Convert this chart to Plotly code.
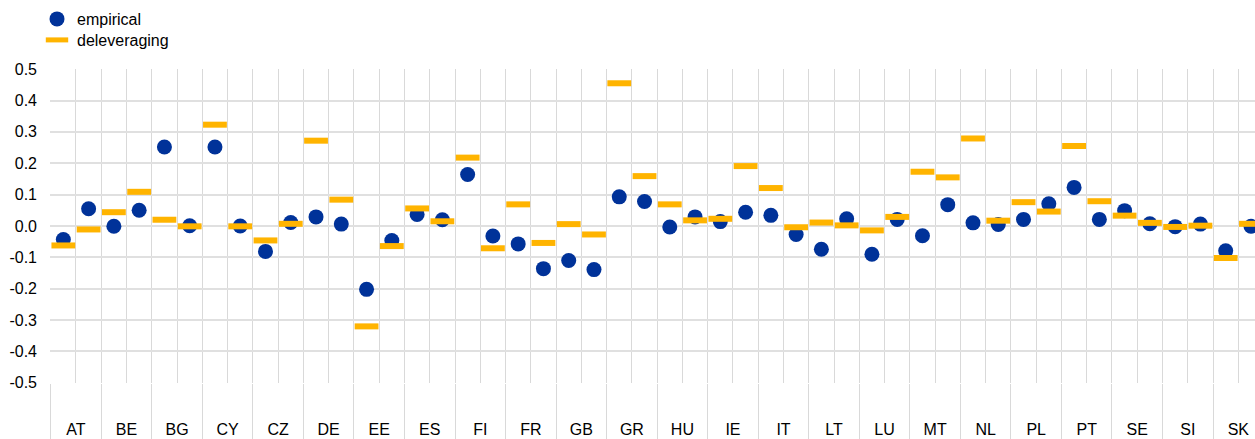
import plotly.graph_objects as go

# Countries, each with two observations (two slots per country)
countries = ["AT", "BE", "BG", "CY", "CZ", "DE", "EE", "ES", "FI", "FR", "GB", "GR",
             "HU", "IE", "IT", "LT", "LU", "MT", "NL", "PL", "PT", "SE", "SI", "SK"]

empirical = [
    -0.043, 0.055,   # AT
    -0.001, 0.050,   # BE
    0.252, 0.001,    # BG
    0.252, 0.000,    # CY
    -0.081, 0.011,   # CZ
    0.029, 0.006,    # DE
    -0.202, -0.046,  # EE
    0.037, 0.020,    # ES
    0.164, -0.032,   # FI
    -0.057, -0.136,  # FR
    -0.110, -0.139,  # GB
    0.093, 0.078,    # GR
    -0.003, 0.029,   # HU
    0.014, 0.044,    # IE
    0.034, -0.027,   # IT
    -0.074, 0.023,   # LT
    -0.090, 0.021,   # LU
    -0.031, 0.068,   # MT
    0.010, 0.005,    # NL
    0.021, 0.071,    # PL
    0.123, 0.021,    # PT
    0.049, 0.007,    # SE
    -0.002, 0.006,   # SI
    -0.079, -0.001,  # SK
]

deleveraging = [
    -0.062, -0.011,  # AT
    0.044, 0.109,    # BE
    0.020, -0.001,   # BG
    0.323, -0.001,   # CY
    -0.046, 0.007,   # CZ
    0.272, 0.084,    # DE
    -0.320, -0.064,  # EE
    0.056, 0.015,    # ES
    0.218, -0.071,   # FI
    0.069, -0.054,   # FR
    0.006, -0.027,   # GB
    0.455, 0.159,    # GR
    0.069, 0.018,    # HU
    0.023, 0.191,    # IE
    0.121, -0.004,   # IT
    0.011, 0.002,    # LT
    -0.014, 0.029,   # LU
    0.173, 0.155,    # MT
    0.279, 0.017,    # NL
    0.076, 0.046,    # PL
    0.255, 0.079,    # PT
    0.033, 0.010,    # SE
    -0.003, 0.001,   # SI
    -0.102, 0.007,   # SK
]

y_ticks = [-0.5, -0.4, -0.3, -0.2, -0.1, 0.0, 0.1, 0.2, 0.3, 0.4, 0.5]

BLUE = "#003299"
YELLOW = "#FFB400"
GRID = "#d9d9d9"
FONT = "Liberation Sans, Arial, sans-serif"

slots = list(range(len(empirical)))
per_country = len(empirical) // len(countries)
label_pos = [i * per_country + (per_country - 1) / 2 for i in range(len(countries))]
boundaries = [i * per_country - 0.5 for i in range(len(countries) + 1)]

fig = go.Figure()
fig.add_trace(go.Scatter(
    x=slots, y=empirical, mode="markers", name="empirical", legend="legend",
    marker=dict(symbol="circle", size=15, color=BLUE, line=dict(width=0)),
))
fig.add_trace(go.Scatter(
    x=slots, y=deleveraging, mode="markers", name="deleveraging", legend="legend2",
    marker=dict(symbol="line-ew", size=17, color=YELLOW,
                line=dict(width=6, color=YELLOW)),
))

legend_style = dict(
    xref="container", yref="container", x=37 / 1255,
    xanchor="left", yanchor="top",
    bgcolor="rgba(0,0,0,0)", font=dict(size=16), itemsizing="trace",
)

fig.update_layout(
    width=1255, height=439,
    margin=dict(l=50, r=0, t=69, b=56, autoexpand=False),
    paper_bgcolor="white", plot_bgcolor="white",
    font=dict(family=FONT, size=16, color="#000000"),
    showlegend=True,
    legend=dict(legend_style, y=1 - 2 / 439),
    legend2=dict(legend_style, y=1 - 23 / 439),
    xaxis=dict(
        range=[-0.528, 47.16],
        tickmode="array", tickvals=label_pos, ticktext=countries,
        ticks="", ticklabelstandoff=35,
        showgrid=True, gridcolor=GRID, gridwidth=1,
        minor=dict(tickmode="array", tickvals=boundaries, ticks="outside",
                   ticklen=60, tickwidth=1, tickcolor=GRID,
                   showgrid=True, gridcolor=GRID, gridwidth=1),
        zeroline=False, showline=False, fixedrange=True, automargin=False,
    ),
    yaxis=dict(
        range=[-0.5005, 0.5005],
        tickmode="array", tickvals=y_ticks,
        ticktext=[f"{v:.1f}" for v in y_ticks],
        ticks="", ticklabelstandoff=12,
        showgrid=True, gridcolor="#e0e0e0", gridwidth=1.5,
        zeroline=False, showline=False, fixedrange=True, automargin=False,
    ),
)

fig.write_html("out.html")
